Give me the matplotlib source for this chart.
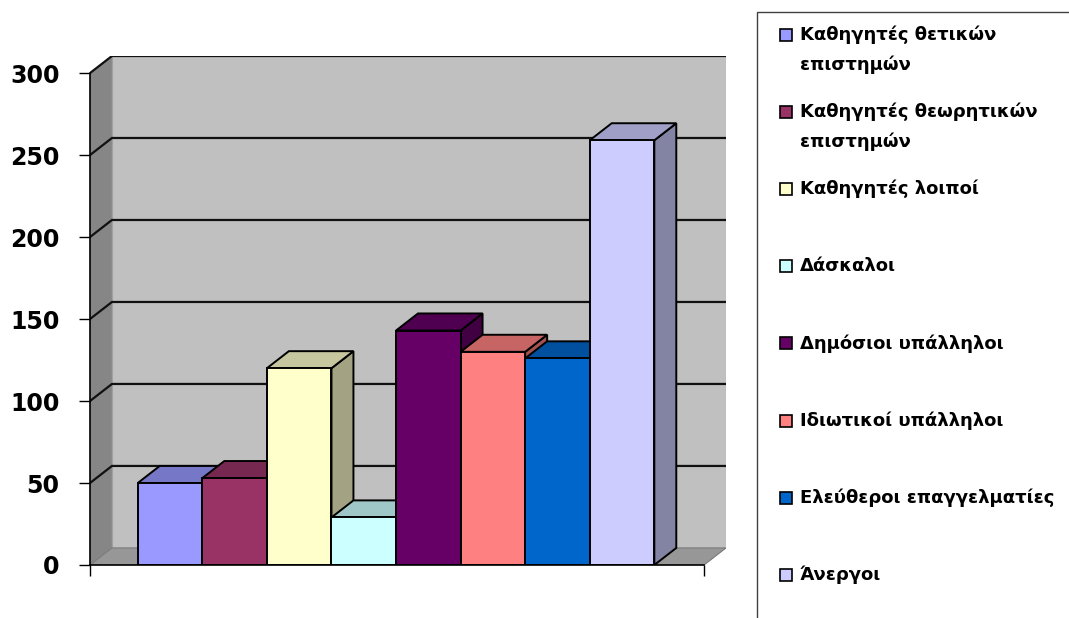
import numpy as np
import matplotlib
matplotlib.use("Agg")
import matplotlib.pyplot as plt
from matplotlib.patches import Rectangle, Polygon
from matplotlib.colors import to_rgb

# occupation groups and counts
labels = [
    "Καθηγητές θετικών\nεπιστημών",
    "Καθηγητές θεωρητικών\nεπιστημών",
    "Καθηγητές λοιποί",
    "Δάσκαλοι",
    "Δημόσιοι υπάλληλοι",
    "Ιδιωτικοί υπάλληλοι",
    "Ελεύθεροι επαγγελματίες",
    "Άνεργοι",
]
values = [50, 53, 120, 29, 143, 130, 126, 259]
colors = ["#9999FF", "#993366", "#FFFFCC", "#CCFFFF",
          "#660066", "#FF8080", "#0066CC", "#CCCCFF"]
yticks = [0, 50, 100, 150, 200, 250, 300]

W, H = 1069, 618
fig = plt.figure(figsize=(W / 100, H / 100), dpi=100)

# fake 3d geometry (category units / value units)
x0, x1 = -1.24, 8.27
dx, dy = 0.34, 10.4
ymax = 300

ax = fig.add_axes([90 / W, 1 - 565 / H, (726 - 90) / W, (565 - 56) / H])
ax.set_xlim(x0, x1 + dx)
ax.set_ylim(0, ymax + dy)
for s in ax.spines.values():
    s.set_visible(False)
ax.patch.set_visible(False)


def shade(c, f):
    r, g, b = to_rgb(c)
    return (r * f, g * f, b * f)


# walls and floor
ax.add_patch(Rectangle((x0 + dx, dy), x1 - x0, ymax, facecolor="#C0C0C0",
                       edgecolor="#A0A0A0", lw=0.8, zorder=1))
ax.add_patch(Polygon([(x0, 0), (x0 + dx, dy), (x0 + dx, ymax + dy), (x0, ymax)],
                     closed=True, facecolor="#868686", edgecolor="none", zorder=1))
ax.add_patch(Polygon([(x0, 0), (x1, 0), (x1 + dx, dy), (x0 + dx, dy)],
                     closed=True, facecolor="#979797", edgecolor="#7A7A7A", lw=0.8, zorder=1))

# gridlines running across the left wall and the back wall
for v in yticks[1:]:
    ax.plot([x0, x0 + dx, x1 + dx], [v, v + dy, v + dy], color="#111111",
            lw=1.6, zorder=2, solid_joinstyle="miter")

# columns, left to right so each front face covers the previous side face
for i, (v, c) in enumerate(zip(values, colors)):
    z = 10 + 3 * i
    l, r = i - 0.5, i + 0.5
    ax.add_patch(Polygon([(r, 0), (r + dx, dy), (r + dx, v + dy), (r, v)],
                         closed=True, facecolor=shade(c, 0.64), edgecolor="black",
                         lw=1.4, zorder=z))
    ax.add_patch(Polygon([(l, v), (r, v), (r + dx, v + dy), (l + dx, v + dy)],
                         closed=True, facecolor=shade(c, 0.78), edgecolor="black",
                         lw=1.4, zorder=z + 1))
    ax.add_patch(Rectangle((l, 0), 1, v, facecolor=c, edgecolor="black",
                           lw=1.4, zorder=z + 2))

# axis lines
ax.plot([x0, x0], [0, ymax], color="black", lw=1.2, zorder=40, clip_on=False)
ax.plot([x0, x1], [0, 0], color="black", lw=1.2, zorder=40, clip_on=False)

ax.set_yticks(yticks)
ax.set_yticklabels([str(t) for t in yticks], fontsize=17, fontweight="bold")
ax.tick_params(axis="y", length=8, width=1.0, pad=14, direction="out")
ax.set_xticks([x0, x1])
ax.set_xticklabels([])
ax.tick_params(axis="x", length=8, width=1.0, direction="out")

# legend panel
fig.patches.append(Rectangle((757 / W, -0.1), 0.5, 1 - 12 / H + 0.1,
                             transform=fig.transFigure, facecolor="white",
                             edgecolor="#404040", lw=1.0))
for k, (lab, c) in enumerate(zip(labels, colors)):
    yc = 35 + 77.1 * k
    fig.patches.append(Rectangle((780 / W, 1 - (yc + 6) / H), 12 / W, 12 / H,
                                 transform=fig.transFigure, facecolor=c,
                                 edgecolor="black", lw=1.2))
    for j, line in enumerate(lab.split("\n")):
        fig.text(800 / W, 1 - (yc + 30 * j) / H, line, fontsize=13,
                 fontweight="bold", va="center", ha="left",
                 transform=fig.transFigure)

fig.savefig("out.png", dpi=100)
